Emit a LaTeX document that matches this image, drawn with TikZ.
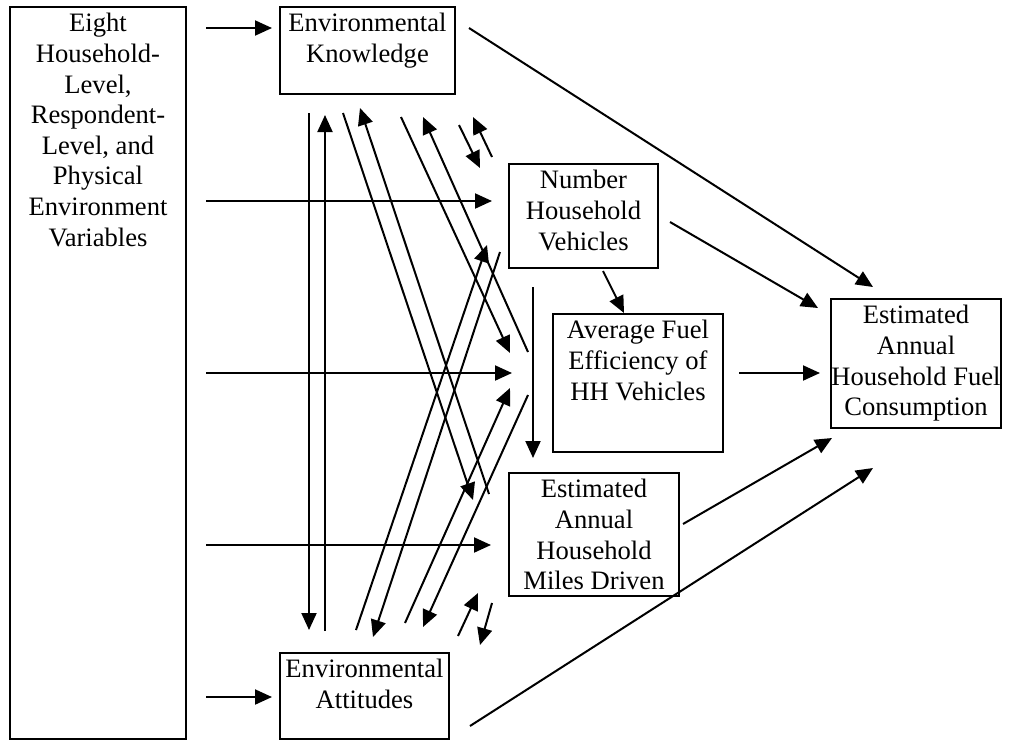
\documentclass[tikz,border=0pt]{standalone}
\usepackage{fontspec}
\setmainfont{Liberation Serif}
\usetikzlibrary{arrows.meta}

\tikzset{
  box/.style={draw, line width=2pt, anchor=north west, inner sep=0pt},
  lbl/.style={anchor=north, inner sep=0pt, align=center,
              font=\fontsize{26.6}{30.6}\selectfont, yshift=-7.2pt},
  arr/.style={line width=2pt, -{Triangle[length=17pt,width=15pt]}},
}

\begin{document}
\begin{tikzpicture}[x=1pt, y=-1pt]
\useasboundingbox (0,0) rectangle (1020,740);

% boxes
\node[box, minimum width=176pt, minimum height=732pt] (vars) at (9,6) {};
\node[box, minimum width=175pt, minimum height=87pt]  (ek)   at (279,6) {};
\node[box, minimum width=149pt, minimum height=104pt] (nhv)  at (508,163) {};
\node[box, minimum width=170pt, minimum height=138pt] (afe)  at (552,313) {};
\node[box, minimum width=170pt, minimum height=129pt] (fc)   at (830,298) {};
\node[box, minimum width=170pt, minimum height=123pt] (mil)  at (508,472) {};
\node[box, minimum width=169pt, minimum height=86pt]  (ea)   at (279,652) {};

% box texts
\node[lbl] (varsT) at (vars.north) {Eight\\Household-\\Level,\\Respondent-\\Level, and\\Physical\\Environment\\Variables};
\node[lbl] (ekT)  at (ek.north)  {Environmental\\Knowledge};
\node[lbl] (nhvT) at (nhv.north) {Number\\Household\\Vehicles};
\node[lbl] (afeT) at (afe.north) {Average Fuel\\Efficiency of\\HH Vehicles};
\node[lbl] (fcT)  at (fc.north)  {Estimated\\Annual\\Household Fuel\\Consumption};
\node[lbl] (milT) at (mil.north) {Estimated\\Annual\\Household\\Miles Driven};
\node[lbl] (eaT)  at (ea.north)  {Environmental\\Attitudes};

% connector end points
\coordinate (r1s) at (206,28);   \coordinate (r1e) at (272,28);
\coordinate (r2s) at (206,201);  \coordinate (r2e) at (492,201);
\coordinate (r3s) at (206,373);  \coordinate (r3e) at (512,373);
\coordinate (r4s) at (206,545);  \coordinate (r4e) at (491,545);
\coordinate (r5s) at (206,697);  \coordinate (r5e) at (272,697);

\coordinate (kaS) at (309,113);  \coordinate (kaE) at (309,630);
\coordinate (akS) at (325,631);  \coordinate (akE) at (325,115);

\coordinate (kmS) at (343,113);  \coordinate (kmE) at (473,500);
\coordinate (mkS) at (489,494);  \coordinate (mkE) at (360,108);
\coordinate (kfS) at (401,117);  \coordinate (kfE) at (510,353);
\coordinate (fkS) at (528,352);  \coordinate (fkE) at (423,117);
\coordinate (knS) at (459,125);  \coordinate (knE) at (480,168);
\coordinate (nkS) at (492,157);  \coordinate (nkE) at (473,117);

\coordinate (anS) at (356,630);  \coordinate (anE) at (487,245);
\coordinate (naS) at (500,252);  \coordinate (naE) at (373,637);
\coordinate (afS) at (405,623);  \coordinate (afE) at (510,388);
\coordinate (faS) at (528,395);  \coordinate (faE) at (423,627);
\coordinate (amS) at (458,636);  \coordinate (amE) at (478,593);
\coordinate (maS) at (492,603);  \coordinate (maE) at (480,645);

\coordinate (nmS) at (533,287);  \coordinate (nmE) at (533,458);
\coordinate (nfS) at (603,271);  \coordinate (nfE) at (624,313);

\coordinate (kcS) at (469,28);   \coordinate (kcE) at (873,287);
\coordinate (ncS) at (670,222);  \coordinate (ncE) at (818,308);
\coordinate (fcS) at (739,373);  \coordinate (fcE) at (820,373);
\coordinate (mcS) at (683,524);  \coordinate (mcE) at (832,438);
\coordinate (acS) at (470,726);  \coordinate (acE) at (873,468);

% arrows from the exogenous variables
\draw[arr] (r1s) -- (r1e);
\draw[arr] (r2s) -- (r2e);
\draw[arr] (r3s) -- (r3e);
\draw[arr] (r4s) -- (r4e);
\draw[arr] (r5s) -- (r5e);

% knowledge <-> attitudes
\draw[arr] (kaS) -- (kaE);
\draw[arr] (akS) -- (akE);

% knowledge <-> mediators
\draw[arr] (kmS) -- (kmE);
\draw[arr] (mkS) -- (mkE);
\draw[arr] (kfS) -- (kfE);
\draw[arr] (fkS) -- (fkE);
\draw[arr] (knS) -- (knE);
\draw[arr] (nkS) -- (nkE);

% attitudes <-> mediators
\draw[arr] (anS) -- (anE);
\draw[arr] (naS) -- (naE);
\draw[arr] (afS) -- (afE);
\draw[arr] (faS) -- (faE);
\draw[arr] (amS) -- (amE);
\draw[arr] (maS) -- (maE);

% vehicle ownership effects
\draw[arr] (nmS) -- (nmE);
\draw[arr] (nfS) -- (nfE);

% paths into fuel consumption
\draw[arr] (kcS) -- (kcE);
\draw[arr] (ncS) -- (ncE);
\draw[arr] (fcS) -- (fcE);
\draw[arr] (mcS) -- (mcE);
\draw[arr] (acS) -- (acE);
\end{tikzpicture}
\end{document}
